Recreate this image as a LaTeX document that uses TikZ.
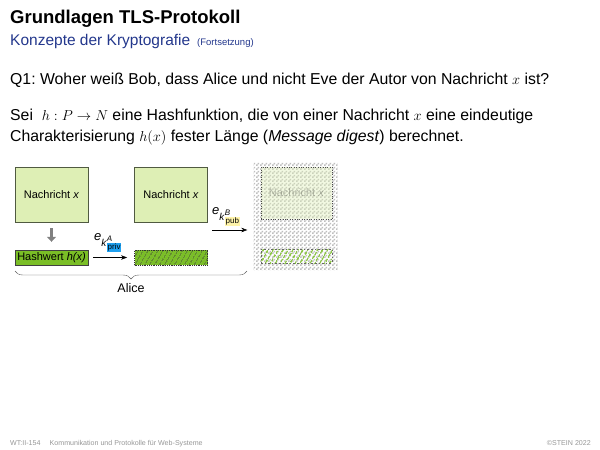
\documentclass[tikz,border=0pt]{standalone}
\usepackage{amsmath}
\usepackage{fontspec}
\setmainfont{Liberation Sans}
\usetikzlibrary{arrows.meta,patterns,patterns.meta,decorations.pathreplacing}

\definecolor{msggreen}{RGB}{222,239,181}
\definecolor{hashgreen}{RGB}{122,190,38}
\definecolor{boxborder}{RGB}{80,90,65}
\definecolor{titleblue}{RGB}{35,55,140}
\definecolor{privblue}{RGB}{30,160,240}
\definecolor{pubyellow}{RGB}{255,244,170}
\definecolor{footgray}{RGB}{150,150,150}

\pgfdeclarepatternformonly{finechecker}{\pgfpointorigin}{\pgfpoint{4pt}{4pt}}{\pgfpoint{4pt}{4pt}}{
  \pgfpathrectangle{\pgfpointorigin}{\pgfpoint{2pt}{2pt}}
  \pgfpathrectangle{\pgfpoint{2pt}{2pt}}{\pgfpoint{2pt}{2pt}}
  \pgfusepath{fill}}

\newcommand{\keysize}[1]{\text{\fontsize{8}{9}\selectfont #1}}
\newcommand{\keyname}[3]{\textit{e}$_{\text{\fontsize{10}{11}\selectfont\textit{k}}^{\keysize{\textit{#1}}}_{\keysize{\setlength{\fboxsep}{0.8pt}\colorbox{#2}{#3}}}}$}

\tikzset{
  msgbox/.style={draw=boxborder, fill=msggreen, minimum width=73pt, minimum height=55pt,
    inner sep=0pt, font=\fontsize{11}{13}\selectfont},
  hashbox/.style={draw=black!75, fill=hashgreen, minimum width=73pt, minimum height=15pt,
    inner sep=0pt, font=\fontsize{11}{13}\selectfont},
  hatchbox/.style={preaction={fill=hashgreen}, pattern={Lines[angle=60,distance=4pt,line width=0.8pt]},
    pattern color=black!80, draw=black!80, densely dotted, minimum width=73pt, minimum height=15pt},
  sendarrow/.style={-{Stealth[length=6pt,width=4.5pt]}, thin},
  hasharrow/.style={-{Triangle[length=5pt,width=9pt]}, line width=3pt, gray},
  keylabel/.style={font=\fontsize{13}{15}\selectfont, inner sep=0pt, anchor=south west},
  textline/.style={anchor=base west, inner sep=0pt, font=\fontsize{15.8}{18}\selectfont}
}

\begin{document}
\frenchspacing
\begin{tikzpicture}[x=1pt, y=-1pt]
  \useasboundingbox (0,0) rectangle (600,450);

  \node[anchor=base west, inner sep=0pt, font=\fontsize{18.5}{21}\selectfont\bfseries] (title) at (10,23.3)
    {Grundlagen TLS-Protokoll};
  \node[anchor=base west, inner sep=0pt, text=titleblue, font=\fontsize{15.5}{18}\selectfont] (subtitle) at (10,45)
    {Konzepte der Kryptografie {\fontsize{9.5}{11}\selectfont\ (Fortsetzung)}};

  \node[textline] (q1) at (10,84)
    {Q1: Woher weiß Bob, dass Alice und nicht Eve der Autor von Nachricht $x$ ist?};
  \node[textline] (sei) at (10,120)
    {Sei \ $h:P\rightarrow N$ eine Hashfunktion, die von einer Nachricht $x$ eine eindeutige};
  \node[textline] (charakt) at (10,141.7)
    {Charakterisierung $h(x)$ fester Länge (\textit{Message digest}) berechnet.};

  \node[msgbox] (nachricht1) at (51.5,194.5) {Nachricht \textit{x}};
  \node[hashbox] (hashwert) at (51.5,257.5) {Hashwert \textit{h(x)}};
  \draw[hasharrow] ([yshift=-6pt]nachricht1.south) -- ([yshift=8pt]hashwert.north);

  \node[msgbox] (nachricht2) at (171,194.5) {Nachricht \textit{x}};
  \node[hatchbox] (signatur) at (171,257.5) {};
  \draw[sendarrow] ([xshift=5pt]hashwert.east) -- ([xshift=-7pt]signatur.west);
  \node[keylabel] (privkey) at (94,252.5) {\keyname{A}{privblue}{priv}};

  \node[preaction={fill=white}, pattern=finechecker, pattern color=black!25, minimum width=84pt,
    minimum height=108pt, inner sep=0pt] (krypto) at (295.5,216) {};
  \node[msgbox, dotted, draw=black!70, fill opacity=0.4, text opacity=0.25,
    minimum width=71pt, minimum height=52pt] (nachricht3) at (296.5,193) {Nachricht \textit{x}};
  \node[pattern={Lines[angle=60,distance=4pt,line width=1.6pt]}, pattern color=hashgreen!85,
    draw=black!60, dotted, minimum width=71pt, minimum height=14pt] (signatur3) at (296.5,256) {};

  \coordinate (pubstart) at (212,230);
  \draw[sendarrow] (pubstart) -- ([xshift=-6pt]pubstart -| krypto.west);
  \node[keylabel] (pubkey) at (212,226.5) {\keyname{B}{pubyellow}{pub}};

  \coordinate (braceL) at (15,271);
  \coordinate (braceR) at (247,271);
  \draw[decorate, decoration={brace, mirror, amplitude=8pt}, black!65] (braceL) -- (braceR)
    node[midway, below=9pt, font=\fontsize{12.5}{14}\selectfont, text=black] (alice) {Alice};

  \node[anchor=base west, inner sep=0pt, text=footgray, font=\fontsize{7.1}{9}\selectfont] (foot) at (10,445)
    {WT:II-154 \quad Kommunikation und Protokolle für Web-Systeme};
  \node[anchor=base east, inner sep=0pt, text=footgray, font=\fontsize{7.1}{9}\selectfont] (copy) at (591,445)
    {©STEIN 2022};
\end{tikzpicture}
\end{document}
